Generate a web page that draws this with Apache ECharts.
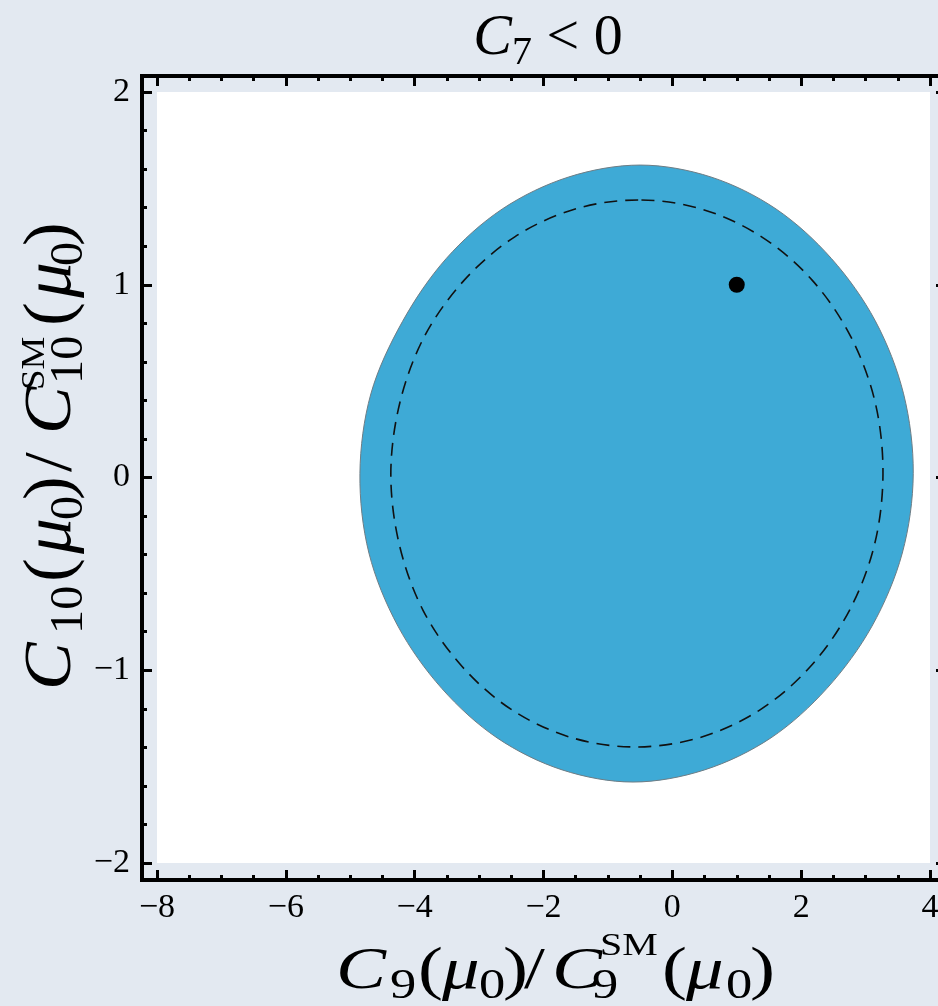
<!DOCTYPE html>
<html>
<head>
<meta charset="utf-8">
<script src="https://cdn.jsdelivr.net/npm/echarts@6.0.0/dist/echarts.min.js"></script>
<style>
  html, body { margin: 0; padding: 0; background: #e3e9f1; }
  #chart { width: 938px; height: 1006px; }
</style>
</head>
<body>
<div id="chart"></div>
<script>
// Axis ranges and tick steps
const xRange = [-8, 4];
const yRange = [-2, 2];
const xStep = 2;
const yStep = 1;

// Allowed region (filled contour), counter-clockwise from the top
const regionX = [-0.50, -1.61, -2.64, -3.51, -4.19, -4.68, -4.85, -4.71, -4.26, -3.58, -2.72, -1.71,
                 -0.61, 0.50, 1.53, 2.40, 3.10, 3.57, 3.74, 3.59, 3.15, 2.47, 1.61, 0.60];
const regionY = [1.621, 1.559, 1.393, 1.136, 0.809, 0.434, 0.020, -0.392, -0.771, -1.094, -1.351, -1.517,
                 -1.580, -1.517, -1.351, -1.094, -0.771, -0.392, 0.020, 0.434, 0.813, 1.136, 1.393, 1.559];

// Dashed contour, counter-clockwise from the top
const dashX = [-0.53, -1.52, -2.44, -3.23, -3.85, -4.23, -4.37, -4.24, -3.87, -3.26, -2.48, -1.56,
               -0.57, 0.42, 1.35, 2.14, 2.75, 3.14, 3.27, 3.15, 2.77, 2.17, 1.38, 0.46];
const dashY = [1.440, 1.392, 1.250, 1.024, 0.731, 0.388, 0.021, -0.346, -0.689, -0.982, -1.208, -1.350,
               -1.398, -1.350, -1.208, -0.982, -0.689, -0.346, 0.021, 0.388, 0.731, 1.024, 1.250, 1.392];

// Standard Model point
const smPoint = [1, 1];

const SERIF = '"Liberation Serif", "Times New Roman", serif';
const minus = v => String(v).replace('-', '\u2212');

function tickAxis(extra, minorSplit) {
  return Object.assign({
    type: 'value',
    axisLine: { show: false, onZero: false },
    axisTick: { show: true, inside: true, length: 10, lineStyle: { color: '#000', width: 3 } },
    minorTick: { show: true, splitNumber: minorSplit, length: 5, lineStyle: { color: '#000', width: 3 } },
    splitLine: { show: false },
    minorSplitLine: { show: false }
  }, extra);
}

const labelStyle = { color: '#000', fontFamily: SERIF, fontSize: 34, formatter: minus };

// Axis-title builder: pieces laid out along a baseline, sub/superscripts shifted
function mathTitle(pieces, sizes, shifts, pos, rotation, stretch) {
  return {
    type: 'group',
    x: pos[0], y: pos[1],
    rotation: rotation,
    silent: true,
    children: pieces.map(p => {
      const kind = p[2];
      const size = kind === 'sub' ? sizes.sub : kind === 'sup' ? sizes.sup : sizes.main;
      const italic = kind === 'mi' ? 'italic ' : '';
      const dy = kind === 'sub' ? shifts.sub : kind === 'sup' ? shifts.sup : 0;
      return {
        type: 'text',
        x: p[1], y: dy,
        scaleX: stretch[0], scaleY: stretch[1],
        style: {
          text: p[0],
          font: italic + size + 'px ' + SERIF,
          fill: '#000',
          textAlign: 'left', align: 'left',
          textVerticalAlign: 'middle', verticalAlign: 'middle'
        }
      };
    })
  };
}

const xTitlePieces = [
  ['C', 0, 'mi'], ['9', 54, 'sub'], ['(', 82, 'm'], ['\u03bc', 106, 'mi'], ['0', 143, 'sub'], [')', 167, 'm'],
  ['/', 188, 'm'], ['C', 216, 'mi'], ['9', 256, 'sub'], ['SM', 264, 'sup'], ['(', 326, 'm'], ['\u03bc', 350, 'mi'],
  ['0', 390, 'sub'], [')', 414, 'm']
];
const yTitlePieces = [
  ['C', 0, 'mi'], ['10', 56, 'sub'], ['(', 108, 'm'], ['\u03bc', 136, 'mi'], ['0', 170, 'sub'], [')', 190, 'm'],
  ['/', 218, 'm'], ['C', 256, 'mi'], ['10', 306, 'sub'], ['SM', 300, 'sup'], ['(', 364, 'm'], ['\u03bc', 392, 'mi'],
  ['0', 424, 'sub'], [')', 444, 'm']
];

const chart = echarts.init(document.getElementById('chart'), null, { renderer: 'canvas' });

chart.setOption({
  backgroundColor: '#e3e9f1',
  animation: false,
  title: {
    text: '{c|C}{s|7}{t| < 0}',
    left: 543, top: 0, textAlign: 'center',
    textStyle: {
      fontWeight: 'normal',
      rich: {
        c: { fontFamily: SERIF, fontStyle: 'italic', fontWeight: 'normal', fontSize: 58, lineHeight: 68, color: '#000' },
        s: { fontFamily: SERIF, fontWeight: 'normal', fontSize: 40, lineHeight: 40, verticalAlign: 'bottom', color: '#000' },
        t: { fontFamily: SERIF, fontWeight: 'normal', fontSize: 58, lineHeight: 68, color: '#000' }
      }
    }
  },
  grid: {
    left: 157, right: 8, top: 92, bottom: 143,
    show: true, backgroundColor: '#ffffff', borderWidth: 0,
    containLabel: false, outerBoundsMode: 'none'
  },
  xAxis: [
    tickAxis({ position: 'bottom', offset: 17, min: xRange[0], max: xRange[1], interval: xStep,
      axisLabel: Object.assign({ margin: 11 }, labelStyle) }, 4),
    tickAxis({ position: 'top', offset: 16, min: xRange[0], max: xRange[1], interval: xStep,
      axisLabel: { show: false } }, 4)
  ],
  yAxis: [
    tickAxis({ position: 'left', offset: 15, min: yRange[0], max: yRange[1], interval: yStep,
      axisLabel: Object.assign({ margin: 12 }, labelStyle) }, 5),
    tickAxis({ position: 'right', offset: 16, min: yRange[0], max: yRange[1], interval: yStep,
      axisLabel: { show: false } }, 5)
  ],
  series: [
    {
      type: 'custom',
      name: 'region',
      silent: true,
      data: [[regionX[0], regionY[0]]],
      encode: { x: 0, y: 1 },
      renderItem: (params, api) => ({
        type: 'polygon',
        shape: { points: regionX.map((x, i) => api.coord([x, regionY[i]])), smooth: 0.33 },
        style: { fill: '#3eaad6', stroke: '#6e7d85', lineWidth: 1 }
      }),
      z: 2
    },
    {
      type: 'custom',
      name: 'contour',
      silent: true,
      data: [[dashX[0], dashY[0]]],
      encode: { x: 0, y: 1 },
      renderItem: (params, api) => ({
        type: 'polygon',
        shape: { points: dashX.map((x, i) => api.coord([x, dashY[i]])), smooth: 0.33 },
        style: { fill: 'none', stroke: '#111', lineWidth: 1.6, lineDash: [13, 8] }
      }),
      z: 3
    },
    {
      type: 'scatter',
      name: 'SM',
      data: [smPoint],
      symbol: 'circle',
      symbolSize: 16,
      itemStyle: { color: '#000', opacity: 1 },
      silent: true,
      z: 4
    }
  ],
  graphic: [
    {
      type: 'rect',
      silent: true,
      shape: { x: 142, y: 76, width: 804, height: 804 },
      style: { fill: 'none', stroke: '#000', lineWidth: 4 },
      z: 10
    },
    mathTitle(xTitlePieces, { main: 60, sub: 42, sup: 32 }, { sub: 15, sup: -25 }, [336, 972], 0, [1.25, 1]),
    mathTitle(yTitlePieces, { main: 62, sub: 42, sup: 32 }, { sub: 18, sup: -17 }, [52, 690], Math.PI / 2, [1.15, 1.08])
  ]
});
</script>
</body>
</html>
